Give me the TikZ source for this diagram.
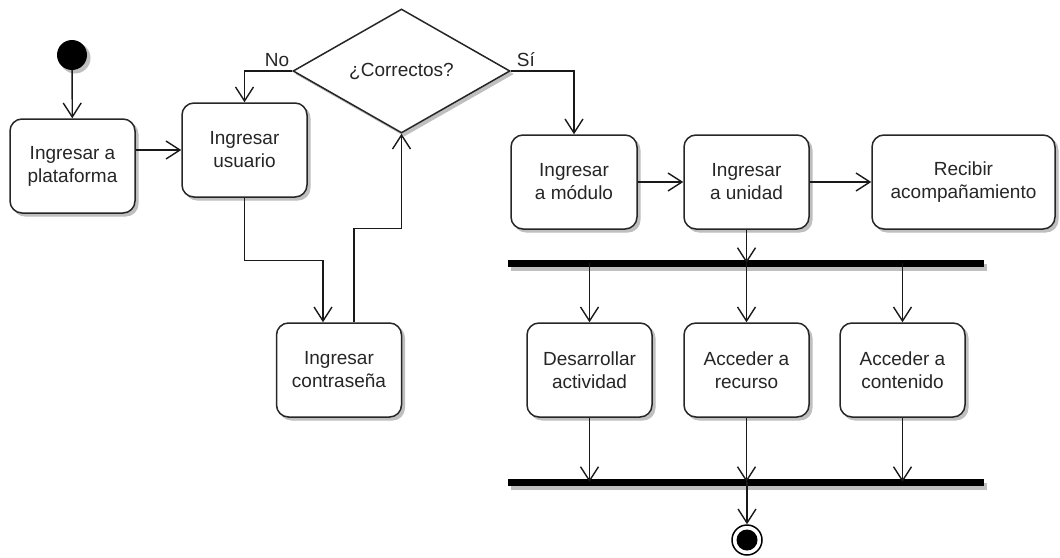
\documentclass[tikz,border=0pt]{standalone}
\usepackage{fontspec}
\setmainfont{Liberation Sans}
\usetikzlibrary{shapes.geometric,arrows.meta,shadows}
\begin{document}
\begin{tikzpicture}[x=1pt,y=-1pt,
  font=\fontsize{19}{23}\selectfont,
  dshadow/.style={general shadow={shadow xshift=3pt, shadow yshift=-3pt, fill=black!25, draw=black!25, line width=1pt}},
  act/.style={draw=black!85, line width=1.5pt, rounded corners=12pt, fill=white, text=black!85,
    minimum width=125pt, minimum height=94pt, align=center, inner sep=0pt, dshadow},
  decision/.style={diamond, draw=black!85, line width=1.5pt, fill=white, aspect=1.75, text=black!85,
    minimum width=217pt, minimum height=124pt, inner sep=0pt, dshadow},
  bar/.style={rectangle, fill=black, minimum width=476pt, minimum height=7pt, inner sep=0pt,
    general shadow={shadow xshift=3pt, shadow yshift=-4pt, fill=black!25}},
  conn/.style={line width=1.4pt, draw=black!90, -{Straight Barb[length=14pt,width=18pt,line width=1.4pt]}},
  lbl/.style={inner sep=0pt, text=black!85}
]
\useasboundingbox (0,0) rectangle (1060,557);

\node[circle, fill=black, minimum size=30pt, inner sep=0pt, dshadow] (start) at (72,55) {};
\node[act] (plat) at (72.5,166) {Ingresar a\\plataforma};
\node[act] (usr) at (244.5,150) {Ingresar\\usuario};
\node[act] (pwd) at (339,370) {Ingresar\\contraseña};
\node[decision] (dec) at (401.5,71) {¿Correctos?};
\node[act, minimum width=126pt] (mod) at (574,182) {Ingresar\\a módulo};
\node[act] (uni) at (746.5,182) {Ingresar\\a unidad};
\node[act, minimum width=183pt] (rec) at (963.5,182) {Recibir\\acompañamiento};
\node[bar] (bar1) at (746,263) {};
\node[act] (des) at (589.5,370) {Desarrollar\\actividad};
\node[act] (rcs) at (746.5,370) {Acceder a\\recurso};
\node[act] (cnt) at (902.5,370) {Acceder a\\contenido};
\node[bar] (bar2) at (746,482) {};
\node[circle, draw=black, line width=1.5pt, fill=white, minimum size=30pt, inner sep=0pt,
  path picture={\fill[black] (path picture bounding box.center) circle (10.5pt);}] (end) at (747,540) {};

\draw[conn] (start) -- (plat);
\draw[conn] (plat.east |- usr.west) -- (usr.west);
\draw[conn] (usr.south) -- ++(0,63) -| ([xshift=-16pt]pwd.north);
\draw[conn] ([xshift=15pt]pwd.north) -- ++(0,-94) -| (dec.south);
\draw[conn] (dec.west) -| (usr.north) node[pos=0.16, above=4pt, lbl] {No};
\draw[conn] (dec.east) -| (mod.north) node[pos=0.12, above=4pt, lbl] {Sí};
\draw[conn] (mod) -- (uni);
\draw[conn] (uni) -- (rec);
\draw[conn] (uni.south) -- (uni.south |- bar1.center);
\draw[conn] (bar1.center -| des.north) -- (des.north);
\draw[conn] (bar1.center -| rcs.north) -- (rcs.north);
\draw[conn] (bar1.center -| cnt.north) -- (cnt.north);
\draw[conn] (des.south) -- (des.south |- bar2.center);
\draw[conn] (rcs.south) -- (rcs.south |- bar2.center);
\draw[conn] (cnt.south) -- (cnt.south |- bar2.center);
\draw[conn] (bar2.center -| end.north) -- (end.north);
\end{tikzpicture}
\end{document}
